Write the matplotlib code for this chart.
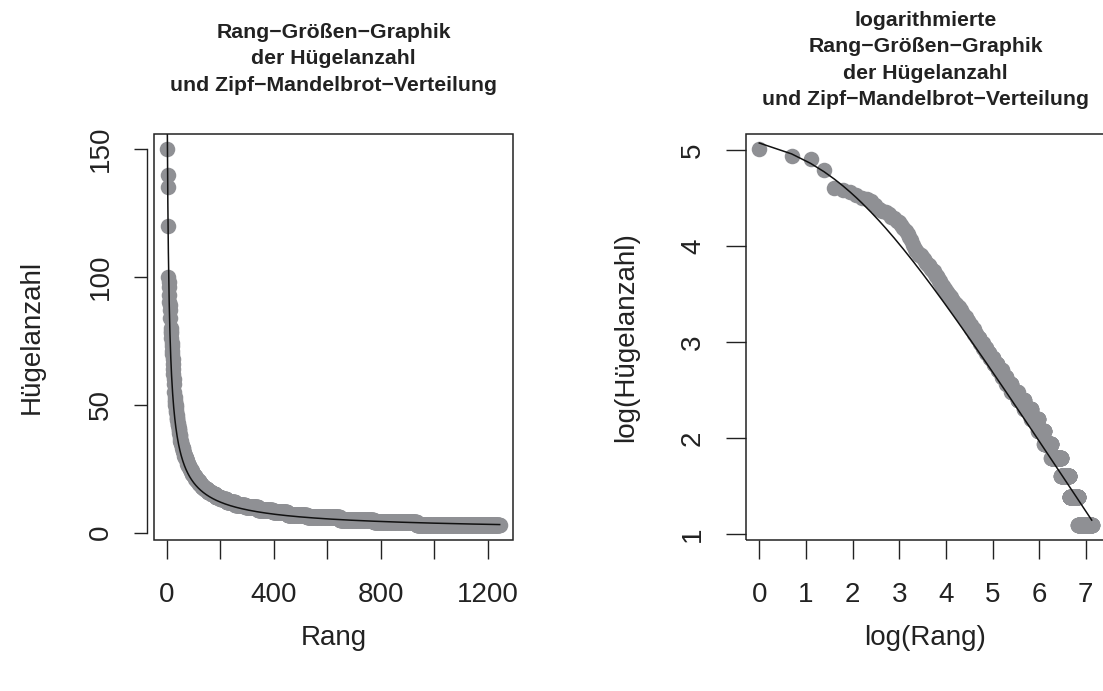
import numpy as np
import matplotlib
matplotlib.use("Agg")
import matplotlib.pyplot as plt
from matplotlib.patches import Rectangle

plt.rcParams['font.family'] = ['Liberation Sans', 'DejaVu Sans']

# Hügelanzahl (absteigend) und wie oft jeder Wert vorkommt
huegel_werte = [150, 140, 135, 120, 100, 98, 96, 93, 90, 89,
                87, 84, 80, 79, 78, 76, 74, 73, 71, 70,
                68, 66, 64, 62, 60, 58, 55, 53, 52, 51,
                50, 49, 48, 47, 46, 45, 44, 43, 42, 41,
                40, 39, 38, 37, 36, 35, 34, 33, 32, 31,
                30, 29, 28, 27, 26, 25, 24, 23, 22, 21,
                20, 19, 18, 17, 16, 15, 14, 13, 12, 11,
                10, 9, 8, 7, 6, 5, 4, 3]
huegel_haeufigkeit = [1, 1, 1, 1, 1, 1, 1, 1, 1, 1,
                      1, 1, 1, 1, 1, 1, 1, 1, 1, 1,
                      1, 1, 1, 1, 1, 1, 1, 1, 1, 1,
                      2, 1, 1, 1, 1, 2, 1, 1, 2, 1,
                      2, 1, 2, 1, 2, 3, 2, 3, 2, 3,
                      4, 4, 3, 4, 5, 4, 5, 6, 6, 7,
                      8, 9, 10, 12, 14, 16, 18, 23, 32, 38,
                      48, 55, 55, 73, 123, 127, 161, 311]

# angepasste Zipf-Mandelbrot-Verteilung: C / (r + b)^a
zm_c = 596.0
zm_b = 5.0
zm_a = 0.735

anzahl = np.repeat(huegel_werte, huegel_haeufigkeit)
rang = np.arange(1, len(anzahl) + 1)
zm = zm_c / (rang + zm_b) ** zm_a

W, H = 1103, 691
fig = plt.figure(figsize=(W / 100, H / 100), dpi=100)

grau = '#8f9094'
tick_kw = dict(direction='out', length=13.7, width=1.0, labelsize=20,
               color='#222222', labelcolor='#222222')


def r_lim(lo, hi):
    d = (hi - lo) * 0.04
    return lo - d, hi + d


def rahmen(ax):
    for s in ax.spines.values():
        s.set_visible(False)
    ax.add_patch(Rectangle((0, 0), 1, 1, transform=ax.transAxes, fill=False,
                           lw=1.1, edgecolor='#222222', clip_on=False, zorder=5))


# links: Rang-Größen-Graphik
ax1 = fig.add_axes([154 / W, 1 - 540 / H, 359 / W, 406 / H])
ax1.scatter(rang, anzahl, s=125, color=grau, linewidths=0, zorder=2)
ax1.plot(rang, zm, color='#111111', lw=1.1, zorder=3)
ax1.set_xlim(*r_lim(rang.min(), rang.max()))
ax1.set_ylim(*r_lim(anzahl.min(), anzahl.max()))
rahmen(ax1)
ax1.spines['left'].set_visible(True)
ax1.spines['left'].set_position(('outward', 5))
ax1.spines['left'].set_bounds(0, 150)
ax1.spines['left'].set_linewidth(1.0)
ax1.spines['left'].set_color('#222222')
ax1.set_xticks(range(0, 1201, 200))
ax1.set_xticklabels(['0', '', '400', '', '800', '', '1200'])
ax1.set_yticks([0, 50, 100, 150])
ax1.tick_params(axis='x', pad=16.5, **tick_kw)
ax1.tick_params(axis='y', pad=14.4, **dict(tick_kw, length=9.4))
plt.setp(ax1.get_yticklabels(), rotation=90, va='center')

# rechts: logarithmierte Darstellung
ax2 = fig.add_axes([746 / W, 1 - 540 / H, 359 / W, 406 / H])
lx, ly = np.log(rang), np.log(anzahl)
ax2.scatter(lx, ly, s=125, color=grau, linewidths=0, zorder=2)
ax2.plot(lx, np.log(zm), color='#111111', lw=1.1, zorder=3)
ax2.set_xlim(*r_lim(lx.min(), lx.max()))
ax2.set_ylim(*r_lim(ly.min(), ly.max()))
rahmen(ax2)
ax2.set_xticks(range(0, 8))
ax2.set_yticks(range(1, 6))
ax2.tick_params(axis='x', pad=16.5, **tick_kw)
ax2.tick_params(axis='y', pad=14.4, **dict(tick_kw, length=14.4))
plt.setp(ax2.get_yticklabels(), rotation=90, va='center')


def ftext(x, y, s, **kw):
    fig.text(x / W, 1 - y / H, s, ha='center', va='center',
             color='#222222', **kw)


titel_kw = dict(fontsize=15.3, fontweight='bold', linespacing=1.5)
ftext(333.5, 59, 'Rang\u2212Größen\u2212Graphik\nder Hügelanzahl\n'
      'und Zipf\u2212Mandelbrot\u2212Verteilung', **titel_kw)
ftext(925.5, 60, 'logarithmierte\nRang\u2212Größen\u2212Graphik\nder Hügelanzahl\n'
      'und Zipf\u2212Mandelbrot\u2212Verteilung', **titel_kw)

ftext(333.5, 638, 'Rang', fontsize=20)
ftext(925.5, 638, 'log(Rang)', fontsize=20)
ftext(32, 337, 'Hügelanzahl', fontsize=20, rotation=90)
ftext(626, 337, 'log(Hügelanzahl)', fontsize=20, rotation=90)

fig.savefig('out.png', dpi=100)
